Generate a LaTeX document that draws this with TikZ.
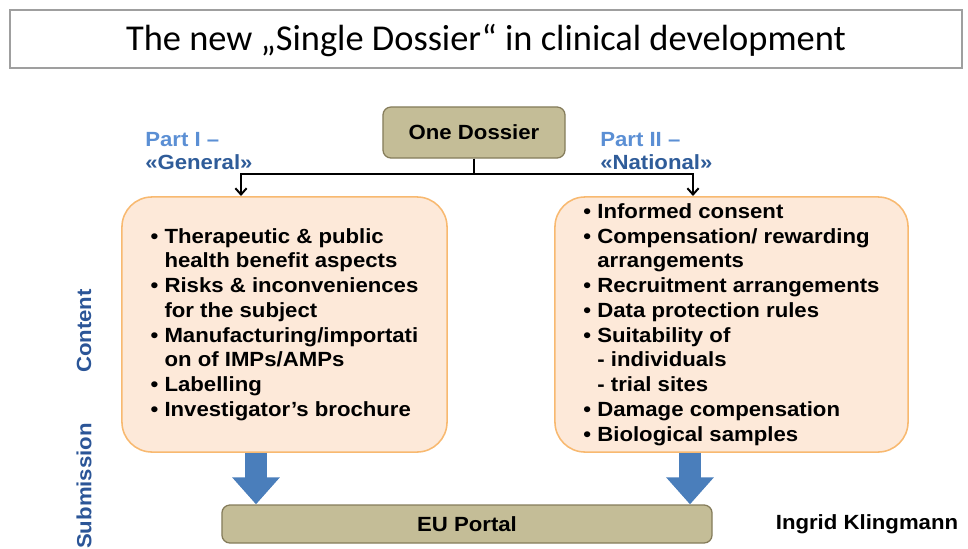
\documentclass[tikz,border=0pt]{standalone}
\usepackage{fontspec}
\setmainfont{Liberation Sans}[FakeStretch=1.08]
\newfontfamily\titlefont{Carlito}
\usetikzlibrary{arrows.meta}

\definecolor{tanfill}{HTML}{C4BD97}
\definecolor{tanline}{HTML}{857C5A}
\definecolor{peach}{HTML}{FDE9D9}
\definecolor{peachline}{HTML}{F8B970}
\definecolor{partlight}{HTML}{5B8FD4}
\definecolor{partdark}{HTML}{2F5C99}
\definecolor{sideblue}{HTML}{2B5597}
\definecolor{blockblue}{HTML}{4A7EBB}

\newcommand\boxtext{\fontsize{14.6}{17.6}\selectfont\bfseries}
\newcommand\bul{\textbullet\ }
\newcommand\bpad{\phantom{\textbullet\ }}

\tikzset{
  tanbox/.style={draw=tanline, fill=tanfill, line width=0.9pt, rounded corners=0.2cm, font=\boxtext},
  listbox/.style={draw=peachline, fill=peach, line width=1.1pt, rounded corners=0.75cm,
    minimum height=6.375cm, align=left, font=\boxtext},
  partlabel/.style={anchor=north west, align=left, inner sep=0pt, font=\fontsize{14.6}{16.4}\selectfont\bfseries},
  sidelabel/.style={rotate=90, text=sideblue, font=\boxtext},
  split/.style={line width=1.4pt, -{Straight Barb[length=4.5pt,width=8pt]}},
  blockarrow/.style={line width=0.55cm, blockblue, -{Triangle[length=0.675cm,width=1.15cm]}}
}

\begin{document}
\begin{tikzpicture}[x=0.025cm, y=-0.025cm]
  \useasboundingbox (0,0) rectangle (968,548);

  % heading
  \draw[draw=gray!75, line width=1pt] (10,10) rectangle (962,68);
  \node (title) at (486,40) {\titlefont\fontsize{25.9}{30}\selectfont The new „Single Dossier“ in clinical development};

  % dossier and its two parts
  \node[tanbox, minimum width=4.55cm, minimum height=1.275cm] (dossier) at (474,132.5) {One Dossier};
  \node[listbox, minimum width=8.125cm] (general) at (284.5,324.5) {%
    \bul Therapeutic \& public\\
    \bpad health benefit aspects\\
    \bul Risks \& inconveniences\\
    \bpad for the subject\\
    \bul Manufacturing/importati\\
    \bpad on of IMPs/AMPs\\
    \bul Labelling\\
    \bul Investigator’s brochure};
  \node[listbox, minimum width=8.825cm] (national) at (731.5,324.5) {%
    \bul Informed consent\\
    \bul Compensation/ rewarding\\
    \bpad arrangements\\
    \bul Recruitment arrangements\\
    \bul Data protection rules\\
    \bul Suitability of\\
    \bpad - individuals\\
    \bpad - trial sites\\
    \bul Damage compensation\\
    \bul Biological samples};

  \node[partlabel] (partI) at (145,132) {\textcolor{partlight}{Part I –}\\\textcolor{partdark}{«General»}};
  \node[partlabel] (partII) at (600,132) {\textcolor{partlight}{Part II –}\\\textcolor{partdark}{«National»}};

  \coordinate (gin) at (241,196);
  \coordinate (nin) at (693,196);
  \draw[split] (dossier.south) -- ++(0,15) -| (gin);
  \draw[split] (dossier.south) -- ++(0,15) -| (nin);

  % submission
  \node[tanbox, minimum width=12.25cm, minimum height=0.95cm] (portal) at (467,524) {EU Portal};
  \coordinate (gout) at (256,0);
  \coordinate (nout) at (690,0);
  \draw[blockarrow] (gout |- general.south) -- (gout |- portal.north);
  \draw[blockarrow] (nout |- national.south) -- (nout |- portal.north);

  % side labels
  \node[sidelabel] (content) at (84,331) {Content};
  \node[sidelabel] (submission) at (84,486) {Submission};

  \node[font=\boxtext] (author) at (867,524) {Ingrid Klingmann};
\end{tikzpicture}
\end{document}
